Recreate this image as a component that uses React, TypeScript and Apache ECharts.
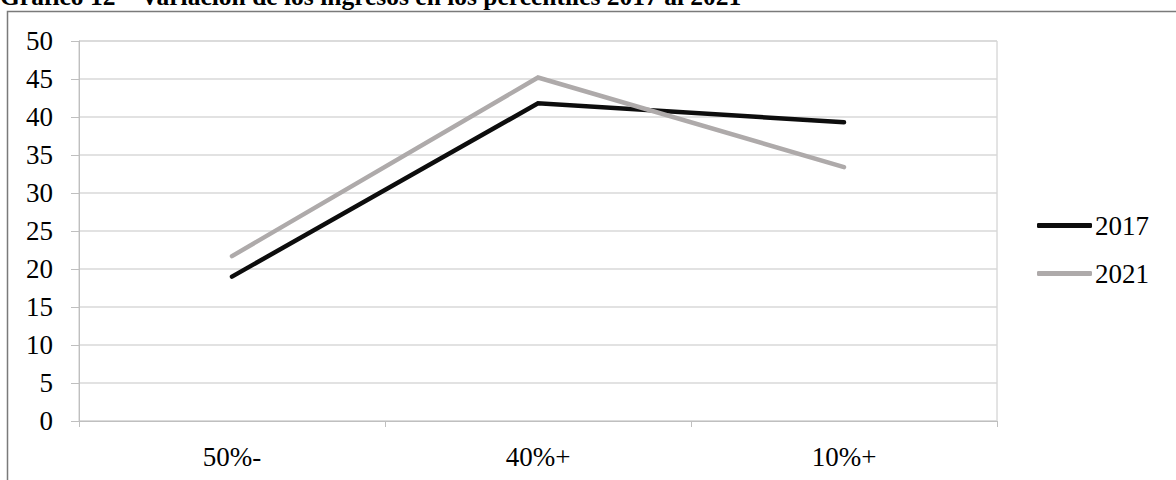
import React, { useEffect, useRef } from "react";
import * as echarts from "echarts";

const titleText = "Gráfico 12 – Variación de los ingresos en los percentiles 2017 al 2021";
const categories = ["50%-", "40%+", "10%+"];
const seriesNames = ["2017", "2021"];
const values2017 = [19.0, 41.8, 39.3];
const values2021 = [21.7, 45.2, 33.4];
const seriesColors = ["#0d0d0d", "#aeaaaa"];

const FONT = "Liberation Serif";

export default function App() {
  const ref = useRef<HTMLDivElement>(null);
  useEffect(() => {
    if (!ref.current) return;
    const chart = echarts.init(ref.current, undefined, { renderer: "svg" });
    const data = [values2017, values2021];
    chart.setOption({
      animation: false,
      backgroundColor: "#ffffff",
      textStyle: { fontFamily: FONT },
      graphic: [
        {
          type: "rect",
          shape: { x: 7.5, y: 11.5, width: 1300, height: 600 },
          style: { fill: "none", stroke: "#7a7a7a", lineWidth: 1.5 },
          silent: true,
        },
        {
          type: "text",
          x: 0,
          y: 9.5,
          style: {
            text: titleText,
            fontFamily: FONT,
            fontWeight: "bold",
            fontSize: 25.5,
            fill: "#000",
            verticalAlign: "bottom",
            align: "left",
          },
          silent: true,
        },
      ],
      grid: {
        left: 79,
        right: 179,
        top: 41,
        bottom: 59,
        show: true,
        borderColor: "#c8c8c8",
        borderWidth: 1,
      },
      legend: {
        orient: "vertical",
        left: 1037,
        top: 212,
        padding: 0,
        itemWidth: 55,
        itemHeight: 5,
        itemGap: 21,
        icon: "roundRect",
        data: seriesNames,
        textStyle: { fontFamily: FONT, fontSize: 27, color: "#000", padding: [0, 0, 0, -2] },
      },
      xAxis: {
        type: "category",
        data: categories,
        boundaryGap: true,
        axisLine: { show: true, lineStyle: { color: "#bfbfbf", width: 1 } },
        axisTick: { show: true, length: 6, interval: 0, lineStyle: { color: "#bfbfbf" } },
        axisLabel: { fontFamily: FONT, fontSize: 27, color: "#000", margin: 22 },
        splitLine: { show: false },
      },
      yAxis: {
        type: "value",
        min: 0,
        max: 50,
        interval: 5,
        axisLine: { show: true, lineStyle: { color: "#bfbfbf", width: 1 } },
        axisTick: { show: true, length: 8, lineStyle: { color: "#bfbfbf" } },
        axisLabel: { fontFamily: FONT, fontSize: 27, color: "#000", margin: 26 },
        splitLine: { show: true, lineStyle: { color: "#d9d9d9", width: 1.5 } },
      },
      series: seriesNames.map((name, i) => ({
        name,
        type: "line",
        data: data[i],
        symbol: "none",
        showSymbol: false,
        itemStyle: { color: seriesColors[i] },
        lineStyle: { color: seriesColors[i], width: 4.5, cap: "round", join: "miter" },
      })),
    });
    return () => chart.dispose();
  }, []);
  return (
    <div
      ref={ref}
      style={{ position: "fixed", left: 0, top: 0, width: 1176, height: 480, background: "#fff" }}
    />
  );
}
